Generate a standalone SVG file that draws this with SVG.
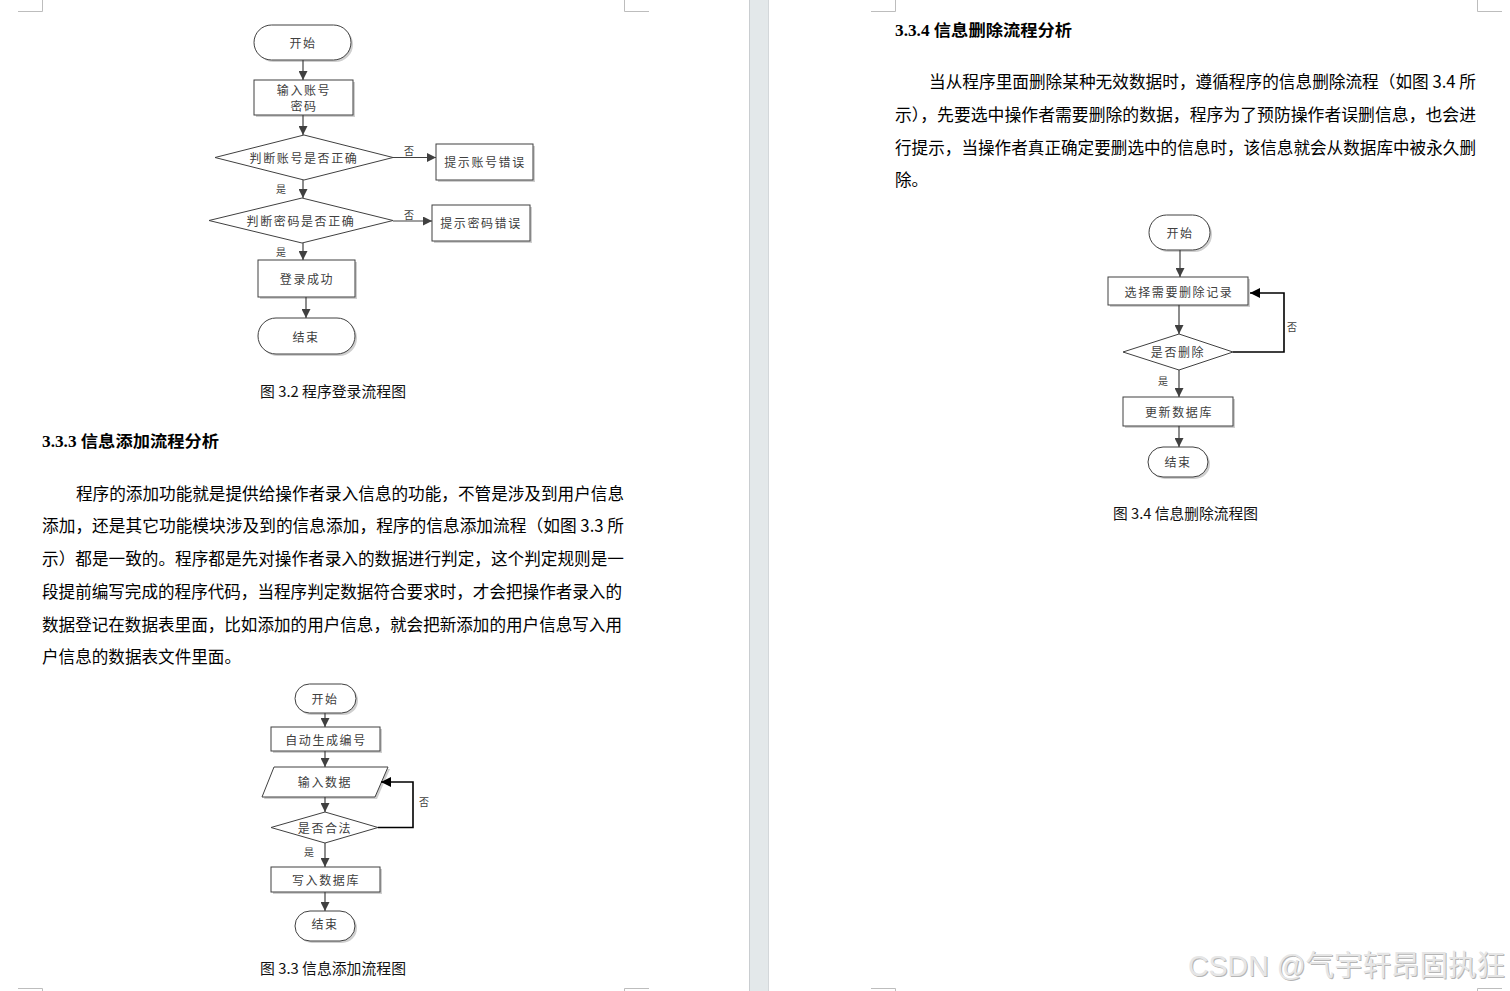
<svg xmlns="http://www.w3.org/2000/svg" width="1510" height="991" viewBox="0 0 1510 991">
<defs>
<style>
.body{font-family:"Noto Sans CJK SC","Liberation Sans",sans-serif;font-size:16.6px;fill:#000}
.head{font-family:"Liberation Serif","Noto Sans CJK SC",serif;font-size:16px;font-weight:bold;fill:#000}
.cap{font-family:"Noto Sans CJK SC","Liberation Sans",sans-serif;font-size:14.5px;fill:#111}
.nt{font-family:"Noto Sans CJK SC","Liberation Serif",sans-serif;font-size:12px;letter-spacing:1.6px;fill:#404040;text-anchor:middle;dominant-baseline:central}
.lbl{font-family:"Noto Sans CJK SC","Liberation Serif",sans-serif;font-size:10px;fill:#404040;text-anchor:middle;dominant-baseline:central}
.shape{fill:#fff;stroke:#404040;stroke-width:1}
.shadow{fill:#cfcfcf;stroke:none}
.edge{fill:none;stroke:#404040;stroke-width:1.2}
.loop{fill:none;stroke:#000;stroke-width:1.6}
.mark{fill:none;stroke:#bdbdbd;stroke-width:1}
</style>
<marker id="ah" viewBox="0 0 10 10" refX="10" refY="5" markerWidth="9" markerHeight="9" markerUnits="userSpaceOnUse" orient="auto">
<path d="M0,0 L10,5 L0,10 z" fill="#404040"/>
</marker>
<marker id="ahb" viewBox="0 0 10 10" refX="10" refY="5" markerWidth="10" markerHeight="10" markerUnits="userSpaceOnUse" orient="auto">
<path d="M0,0 L10,5 L0,10 z" fill="#000"/>
</marker>
</defs>
<rect width="1510" height="991" fill="#fff"/>
<!-- page gap -->
<rect x="749" y="0" width="20" height="991" fill="#e3e8ea"/>
<line x1="749.5" y1="0" x2="749.5" y2="991" stroke="#c9cdd0"/>
<line x1="768.5" y1="0" x2="768.5" y2="991" stroke="#d3d7da"/>
<!-- corner marks -->
<g id="marks">
<path class="mark" d="M18,11.5 H42.5 V0"/>
<path class="mark" d="M624.5,0 V11.5 H649"/>
<path class="mark" d="M18,988.5 H42.5 V991"/>
<path class="mark" d="M624.5,991 V988.5 H649"/>
<path class="mark" d="M871,11.5 H895.5 V0"/>
<path class="mark" d="M1477.5,0 V11.5 H1502"/>
<path class="mark" d="M871,988.5 H895.5 V991"/>
<path class="mark" d="M1477.5,991 V988.5 H1502"/>
</g>

<!-- ===== Figure 3.2 ===== -->
<g id="fig32-nodes">
<g id="n32-start"><rect class="shadow" x="256" y="27" width="97" height="35" rx="17.5"/><rect class="shape" x="254" y="25" width="97" height="35" rx="17.5"/><text class="nt" x="303" y="42">开始</text></g>
<g id="n32-input"><rect class="shadow" x="256" y="82" width="99" height="35"/><rect class="shape" x="254" y="80" width="99" height="35"/><text class="nt" x="304" y="89">输入账号</text><text class="nt" x="304" y="105">密码</text></g>
<g id="n32-d1"><polygon class="shape" points="215,157.5 304,135 393,157.5 304,180"/><text class="nt" x="304" y="157">判断账号是否正确</text></g>
<g id="n32-e1"><rect class="shadow" x="438" y="146" width="97" height="36"/><rect class="shape" x="436" y="144" width="97" height="36"/><text class="nt" x="485" y="161">提示账号错误</text></g>
<g id="n32-d2"><polygon class="shape" points="209,220.5 302,198 393,220.5 302,243"/><text class="nt" x="301" y="220">判断密码是否正确</text></g>
<g id="n32-e2"><rect class="shadow" x="434" y="207" width="98" height="36"/><rect class="shape" x="432" y="205" width="98" height="36"/><text class="nt" x="481" y="222">提示密码错误</text></g>
<g id="n32-ok"><rect class="shadow" x="260" y="262" width="97" height="37"/><rect class="shape" x="258" y="260" width="97" height="37"/><text class="nt" x="307" y="278">登录成功</text></g>
<g id="n32-end"><rect class="shadow" x="260" y="320" width="97" height="36" rx="18"/><rect class="shape" x="258" y="318" width="97" height="36" rx="18"/><text class="nt" x="306" y="336">结束</text></g>
</g>
<g id="fig32-edges">
<line class="edge" x1="303" y1="60" x2="303" y2="80" marker-end="url(#ah)"/>
<line class="edge" x1="303" y1="115" x2="303" y2="135" marker-end="url(#ah)"/>
<line class="edge" x1="393" y1="157.5" x2="436" y2="157.5" marker-end="url(#ah)"/>
<text class="lbl" x="409" y="150">否</text>
<line class="edge" x1="303" y1="180" x2="303" y2="198" marker-end="url(#ah)"/>
<text class="lbl" x="281" y="188">是</text>
<line class="edge" x1="393" y1="221" x2="432" y2="221" marker-end="url(#ah)"/>
<text class="lbl" x="409" y="214">否</text>
<line class="edge" x1="303" y1="243" x2="303" y2="260" marker-end="url(#ah)"/>
<text class="lbl" x="281" y="251">是</text>
<line class="edge" x1="306" y1="297" x2="306" y2="318" marker-end="url(#ah)"/>
</g>
<text class="cap" x="260" y="397" textLength="146" lengthAdjust="spacingAndGlyphs">图 3.2  程序登录流程图</text>

<!-- ===== Section 3.3.3 ===== -->
<text class="head" x="42" y="447" textLength="177" lengthAdjust="spacingAndGlyphs">3.3.3  信息添加流程分析</text>
<text class="body" x="76" y="500" textLength="548" lengthAdjust="spacingAndGlyphs">程序的添加功能就是提供给操作者录入信息的功能，不管是涉及到用户信息</text>
<text class="body" x="42" y="532" textLength="582" lengthAdjust="spacingAndGlyphs">添加，还是其它功能模块涉及到的信息添加，程序的信息添加流程（如图 3.3 所</text>
<text class="body" x="42" y="565" textLength="582" lengthAdjust="spacingAndGlyphs">示）都是一致的。程序都是先对操作者录入的数据进行判定，这个判定规则是一</text>
<text class="body" x="42" y="598" textLength="580" lengthAdjust="spacingAndGlyphs">段提前编写完成的程序代码，当程序判定数据符合要求时，才会把操作者录入的</text>
<text class="body" x="42" y="631" textLength="580" lengthAdjust="spacingAndGlyphs">数据登记在数据表里面，比如添加的用户信息，就会把新添加的用户信息写入用</text>
<text class="body" x="42" y="663" textLength="199" lengthAdjust="spacingAndGlyphs">户信息的数据表文件里面。</text>

<!-- ===== Figure 3.3 ===== -->
<g id="fig33-nodes">
<g id="n33-start"><rect class="shadow" x="297" y="686" width="61" height="29" rx="14.5"/><rect class="shape" x="295" y="684" width="61" height="29" rx="14.5"/><text class="nt" x="325" y="698">开始</text></g>
<g id="n33-gen"><rect class="shadow" x="273" y="729" width="109" height="24"/><rect class="shape" x="271" y="727" width="109" height="24"/><text class="nt" x="326" y="739">自动生成编号</text></g>
<g id="n33-input"><polygon class="shadow" points="276,769 390,769 377,799 264,799"/><polygon class="shape" points="274,767 388,767 375,797 262,797"/><text class="nt" x="325" y="781">输入数据</text></g>
<g id="n33-d"><polygon class="shape" points="271,827.5 325,812 378,827.5 325,843"/><text class="nt" x="325" y="827">是否合法</text></g>
<g id="n33-write"><rect class="shadow" x="273" y="869" width="109" height="25"/><rect class="shape" x="271" y="867" width="109" height="25"/><text class="nt" x="326" y="879">写入数据库</text></g>
<g id="n33-end"><rect class="shadow" x="297" y="913" width="60" height="30" rx="15"/><rect class="shape" x="295" y="911" width="60" height="30" rx="15"/><text class="nt" x="325" y="923">结束</text></g>
</g>
<g id="fig33-edges">
<line class="edge" x1="325" y1="713" x2="325" y2="727" marker-end="url(#ah)"/>
<line class="edge" x1="325" y1="751" x2="325" y2="767" marker-end="url(#ah)"/>
<line class="edge" x1="325" y1="797" x2="325" y2="812" marker-end="url(#ah)"/>
<path class="loop" d="M378,827.5 H413 V782 H381" marker-end="url(#ahb)"/>
<text class="lbl" x="424" y="801">否</text>
<line class="edge" x1="325" y1="843" x2="325" y2="867" marker-end="url(#ah)"/>
<text class="lbl" x="309" y="851">是</text>
<line class="edge" x1="325" y1="892" x2="325" y2="911" marker-end="url(#ah)"/>
</g>
<text class="cap" x="260" y="974" textLength="146" lengthAdjust="spacingAndGlyphs">图 3.3  信息添加流程图</text>

<!-- ===== Section 3.3.4 ===== -->
<text class="head" x="895" y="36" textLength="177" lengthAdjust="spacingAndGlyphs">3.3.4  信息删除流程分析</text>
<text class="body" x="929" y="88" textLength="547" lengthAdjust="spacingAndGlyphs">当从程序里面删除某种无效数据时，遵循程序的信息删除流程（如图 3.4 所</text>
<text class="body" x="895" y="121" textLength="581" lengthAdjust="spacingAndGlyphs">示），先要选中操作者需要删除的数据，程序为了预防操作者误删信息，也会进</text>
<text class="body" x="895" y="154" textLength="581" lengthAdjust="spacingAndGlyphs">行提示，当操作者真正确定要删选中的信息时，该信息就会从数据库中被永久删</text>
<text class="body" x="895" y="186" textLength="33" lengthAdjust="spacingAndGlyphs">除。</text>

<!-- ===== Figure 3.4 ===== -->
<g id="fig34-nodes">
<g id="n34-start"><rect class="shadow" x="1151" y="217" width="61" height="35" rx="17.5"/><rect class="shape" x="1149" y="215" width="61" height="35" rx="17.5"/><text class="nt" x="1180" y="232">开始</text></g>
<g id="n34-select"><rect class="shadow" x="1110" y="279" width="140" height="28"/><rect class="shape" x="1108" y="277" width="140" height="28"/><text class="nt" x="1179" y="291">选择需要删除记录</text></g>
<g id="n34-d"><polygon class="shape" points="1123,352 1179,334 1233,352 1179,370"/><text class="nt" x="1178" y="351">是否删除</text></g>
<g id="n34-update"><rect class="shadow" x="1125" y="399" width="110" height="29"/><rect class="shape" x="1123" y="397" width="110" height="29"/><text class="nt" x="1179" y="411">更新数据库</text></g>
<g id="n34-end"><rect class="shadow" x="1150" y="449" width="60" height="30" rx="15"/><rect class="shape" x="1148" y="447" width="60" height="30" rx="15"/><text class="nt" x="1178" y="461">结束</text></g>
</g>
<g id="fig34-edges">
<line class="edge" x1="1180" y1="250" x2="1180" y2="277" marker-end="url(#ah)"/>
<line class="edge" x1="1179" y1="305" x2="1179" y2="334" marker-end="url(#ah)"/>
<path class="loop" d="M1233,352 H1284 V293 H1250" marker-end="url(#ahb)"/>
<text class="lbl" x="1292" y="326">否</text>
<line class="edge" x1="1179" y1="370" x2="1179" y2="397" marker-end="url(#ah)"/>
<text class="lbl" x="1163" y="380">是</text>
<line class="edge" x1="1179" y1="426" x2="1179" y2="447" marker-end="url(#ah)"/>
</g>
<text class="cap" x="1113" y="519" textLength="145" lengthAdjust="spacingAndGlyphs">图 3.4  信息删除流程图</text>

<!-- watermark -->
<text x="1188" y="976" font-family="'Liberation Sans','Noto Sans CJK SC',sans-serif" font-size="29" fill="#b5b5b5" textLength="317" lengthAdjust="spacingAndGlyphs" transform="translate(1,1)">CSDN @气宇轩昂固执狂</text>
<text x="1188" y="976" font-family="'Liberation Sans','Noto Sans CJK SC',sans-serif" font-size="29" fill="#e6e6e6" textLength="317" lengthAdjust="spacingAndGlyphs">CSDN @气宇轩昂固执狂</text>
</svg>
